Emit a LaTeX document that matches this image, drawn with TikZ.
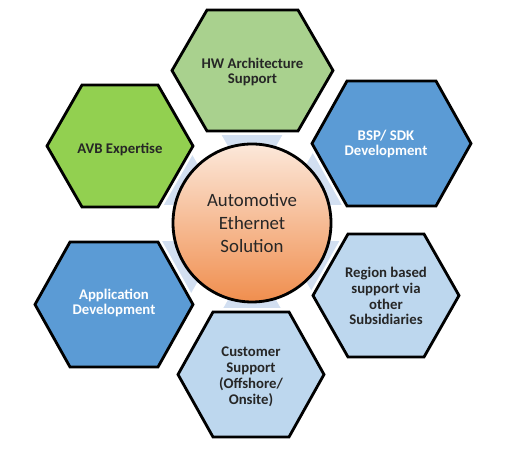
\documentclass[tikz,border=0pt]{standalone}
\usepackage{fontspec}
\setmainfont{Carlito}
\usepackage{tikz}
\usetikzlibrary{shapes.geometric, calc, positioning}
\definecolor{hwgreen}{RGB}{169, 209, 142}
\definecolor{avbgreen}{RGB}{146, 208, 80}
\definecolor{devblue}{RGB}{91, 155, 213}
\definecolor{paleblue}{RGB}{189, 215, 238}
\definecolor{ringblue}{RGB}{210, 223, 241}
\definecolor{coretop}{RGB}{252, 232, 218}
\definecolor{corebot}{RGB}{240, 142, 78}
\definecolor{inkgray}{RGB}{38, 38, 38}

\tikzset{
    hexline/.style={draw=black, line width=1.6pt, line join=miter},
    hexgap/.style={draw=white, line width=4.5pt},
    hexlabel/.style={align=center, font=\bfseries\fontsize{8.4}{9}\selectfont, text=inkgray},
    hexlabelw/.style={hexlabel, text=white},
}

% hexagon: x, y, half width, half height, fill
\newcommand{\hexcell}[5]{%
    \path[hexgap] (#1-#3,#2) -- (#1-#3+35,#2-#4) -- (#1+#3-35,#2-#4) -- (#1+#3,#2) -- (#1+#3-35,#2+#4) -- (#1-#3+35,#2+#4) -- cycle;
    \filldraw[hexline, fill=#5] (#1-#3,#2) -- (#1-#3+35,#2-#4) -- (#1+#3-35,#2-#4) -- (#1+#3,#2) -- (#1+#3-35,#2+#4) -- (#1-#3+35,#2+#4) -- cycle;
}

\begin{document}
\begin{tikzpicture}[x=0.02cm, y=-0.02cm]
        \useasboundingbox (0,0) rectangle (518,455);
        \def\cx{252}
        \def\cy{223}

        % Ring behind the cells
        \fill[ringblue] (\cx,\cy) circle (100);
        \foreach \a in {0, 60, 120, 180, 240, 300}
            \draw[white, line width=20pt] (\cx,\cy) -- ++(\a:120);

        % Cells
        \hexcell{252.5}{70.5}{80.5}{60.5}{hwgreen}
        \hexcell{391.5}{143.5}{79.5}{62.5}{devblue}
        \hexcell{386}{295.5}{73}{61.5}{paleblue}
        \hexcell{251}{374.5}{73}{62.5}{paleblue}
        \hexcell{114}{304.5}{79}{62.5}{devblue}
        \hexcell{120}{146}{73}{61}{avbgreen}

        % Center
        \shade[top color=coretop, bottom color=corebot, draw=black, line width=1.6pt] (\cx,\cy) circle (79);

        % Labels
        \node[hexlabel] (hw) at (252.5,72) {HW Architecture\\Support};
        \node[hexlabelw] (bsp) at (386,144) {BSP/ SDK\\Development};
        \node[hexlabel] (region) at (386,296) {Region based\\support via\\other\\Subsidiaries};
        \node[hexlabel] (customer) at (251,377) {Customer\\Support\\(Offshore/\\Onsite)};
        \node[hexlabelw] (app) at (114,303) {Application\\Development};
        \node[hexlabel] (avb) at (120,149) {AVB Expertise};
        \node[align=center, text=inkgray, font=\fontsize{10.7}{12.9}\selectfont] (core) at (\cx,\cy) {Automotive\\Ethernet\\Solution};
    \end{tikzpicture}
\end{document}
